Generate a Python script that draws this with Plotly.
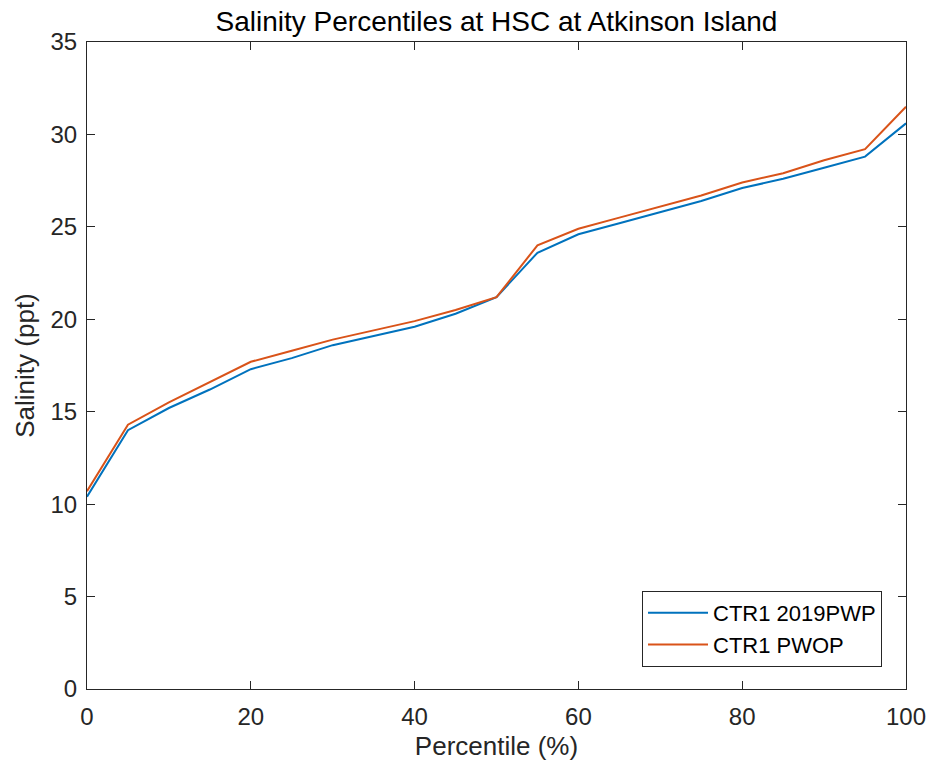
import plotly.graph_objects as go

percentile = [0, 5, 10, 15, 20, 25, 30, 35, 40, 45, 50, 55, 60, 65, 70, 75, 80, 85, 90, 95, 100]
ctr1_2019pwp = [10.4, 14.0, 15.2, 16.2, 17.3, 17.9, 18.6, 19.1, 19.6, 20.3, 21.2, 23.6, 24.6, 25.2, 25.8, 26.4, 27.1, 27.6, 28.2, 28.8, 30.6]
ctr1_pwop = [10.7, 14.3, 15.5, 16.6, 17.7, 18.3, 18.9, 19.4, 19.9, 20.5, 21.2, 24.0, 24.9, 25.5, 26.1, 26.7, 27.4, 27.9, 28.6, 29.2, 31.5]

font = "Liberation Sans, Arial, Helvetica, sans-serif"
W, H = 930, 770
fig = go.Figure()
fig.add_trace(go.Scatter(x=percentile, y=ctr1_2019pwp, mode="lines", name="CTR1 2019PWP",
                         line=dict(color="#0072BD", width=2)))
fig.add_trace(go.Scatter(x=percentile, y=ctr1_pwop, mode="lines", name="CTR1 PWOP",
                         line=dict(color="#D95319", width=2)))

axis_common = dict(showgrid=False, zeroline=False, showline=True, linecolor="#262626", linewidth=1,
                   mirror="ticks", ticks="inside", ticklen=8, tickcolor="#262626",
                   ticklabeloverflow="allow", automargin=False,
                   tickfont=dict(family=font, size=24, color="#262626"))
fig.update_layout(
    width=W, height=H, autosize=False,
    margin=dict(l=87, r=24, t=42, b=81),
    paper_bgcolor="white", plot_bgcolor="white",
    title=dict(text="Salinity Percentiles at HSC at Atkinson Island", xref="container", x=496.5/W, xanchor="center",
               y=1-21/H, yanchor="middle", font=dict(family=font, size=28, color="black")),
    xaxis=dict(range=[0, 100], dtick=20, ticklabelstandoff=6,
               title=dict(text="Percentile (%)", font=dict(family=font, size=26, color="#262626"), standoff=8), **axis_common),
    yaxis=dict(range=[0, 35], dtick=5, ticklabelstandoff=4,
               title=dict(text="Salinity (ppt)", font=dict(family=font, size=26, color="#262626"), standoff=8), **axis_common),
    legend=dict(x=0.9707, y=0.034, xanchor="right", yanchor="bottom", bgcolor="white",
                bordercolor="#262626", borderwidth=1, font=dict(family=font, size=22, color="black"),
                tracegroupgap=0, itemwidth=60),
    showlegend=True,
)
fig.write_html("out.html", config={"displayModeBar": False, "responsive": False},
               post_script="document.body.style.margin='0px';document.body.style.overflow='hidden';")
